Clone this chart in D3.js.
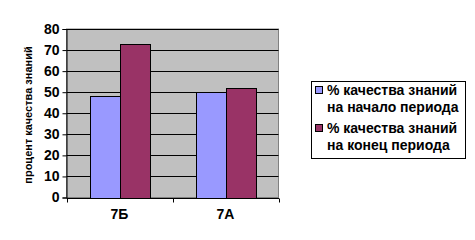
<!DOCTYPE html>
<html>
<head>
<meta charset="utf-8">
<script src="https://cdn.jsdelivr.net/npm/d3@7"></script>
<style>
  body { margin: 0; background: #fff; }
  text { font-family: "Liberation Sans", Arial, sans-serif; }
</style>
</head>
<body>
<svg id="chart" width="475" height="240"></svg>
<script>
// данные диаграммы
const classes = ['7Б', '7А']
const startValues = [48, 50]
const endValues = [73, 52]
const seriesNames = [
  ['% качества знаний', 'на начало периода'],
  ['% качества знаний', 'на конец периода']
]
const colors = ['#9999FF', '#993366']
const yTicks = [0, 10, 20, 30, 40, 50, 60, 70, 80]

const svg = d3.select('#chart')
const plotLeft = 66.5
const plotRight = 278.5
const plotTop = 29
const plotBottom = 197.5

const x = d3.scaleBand()
  .domain(classes)
  .range([plotLeft, plotRight])
  .paddingInner(0.434)
  .paddingOuter(0.217)
const xStep = d3.scaleBand().domain(classes).range([plotLeft, plotRight])
const xSub = d3.scaleBand().domain([0, 1]).range([0, x.bandwidth()])
const y = d3.scaleLinear().domain([0, 80]).range([plotBottom, plotTop])

// фон области построения
svg.append('rect')
  .attr('x', plotLeft).attr('y', plotTop)
  .attr('width', plotRight - plotLeft).attr('height', plotBottom - plotTop)
  .attr('fill', '#C0C0C0')
  .attr('stroke', '#808080')

// сетка
svg.append('g')
  .selectAll('line')
  .data(yTicks.filter(d => d > 0))
  .join('line')
  .attr('x1', plotLeft).attr('x2', plotRight)
  .attr('y1', d => Math.round(y(d)) + 0.5).attr('y2', d => Math.round(y(d)) + 0.5)
  .attr('stroke', '#000')

// столбцы
const series = [startValues, endValues]
series.forEach((vals, i) => {
  svg.append('g')
    .selectAll('rect')
    .data(vals)
    .join('rect')
    .attr('x', (d, j) => Math.round(x(classes[j]) + xSub(i)) + 0.5)
    .attr('y', d => Math.round(y(d)) + 0.5)
    .attr('width', xSub.bandwidth())
    .attr('height', d => Math.round(y(0)) - Math.round(y(d)))
    .attr('fill', colors[i])
    .attr('stroke', '#000')
})

// ось Y
const yAxis = svg.append('g')
  .attr('transform', `translate(${plotLeft},0)`)
  .call(d3.axisLeft(y).tickValues(yTicks).tickSize(4).tickPadding(3))
yAxis.select('.domain').attr('stroke', '#000')
yAxis.selectAll('text')
  .attr('font-size', 14).attr('font-weight', 'bold').attr('fill', '#000')
  .style('font-family', '"Liberation Sans", Arial, sans-serif')

// ось X
const xAxis = svg.append('g')
  .attr('transform', `translate(0,${Math.round(plotBottom) + 0.5})`)
xAxis.append('line')
  .attr('x1', plotLeft).attr('x2', plotRight + 0.5)
  .attr('stroke', '#000')
xAxis.selectAll('line.tk')
  .data([plotLeft, ...classes.map(c => xStep(c) + xStep.step())])
  .join('line')
  .attr('class', 'tk')
  .attr('x1', d => Math.round(d) + 0.5).attr('x2', d => Math.round(d) + 0.5)
  .attr('y1', 0).attr('y2', 4)
  .attr('stroke', '#000')
xAxis.selectAll('text')
  .data(classes)
  .join('text')
  .attr('x', d => xStep(d) + xStep.step() / 2)
  .attr('y', 20)
  .attr('text-anchor', 'middle')
  .attr('font-size', 14).attr('font-weight', 'bold')
  .text(d => d)

// подпись оси Y
svg.append('text')
  .attr('transform', `translate(32,115) rotate(-90)`)
  .attr('text-anchor', 'middle')
  .attr('font-size', 11).attr('font-weight', 'bold')
  .text('процент качества знаний')

// легенда
const legend = svg.append('g')
legend.append('rect')
  .attr('x', 311.5).attr('y', 81.5)
  .attr('width', 154).attr('height', 77)
  .attr('fill', '#fff').attr('stroke', '#000')
seriesNames.forEach((lines, i) => {
  const g = legend.append('g').attr('transform', `translate(0,${i * 38})`)
  g.append('rect')
    .attr('x', 315.5).attr('y', 86.5)
    .attr('width', 7).attr('height', 7)
    .attr('fill', colors[i]).attr('stroke', '#000')
  g.selectAll('text')
    .data(lines)
    .join('text')
    .attr('x', 327)
    .attr('y', (d, k) => 95 + k * 17)
    .attr('font-size', 14).attr('font-weight', 'bold')
    .text(d => d)
})
</script>
</body>
</html>
